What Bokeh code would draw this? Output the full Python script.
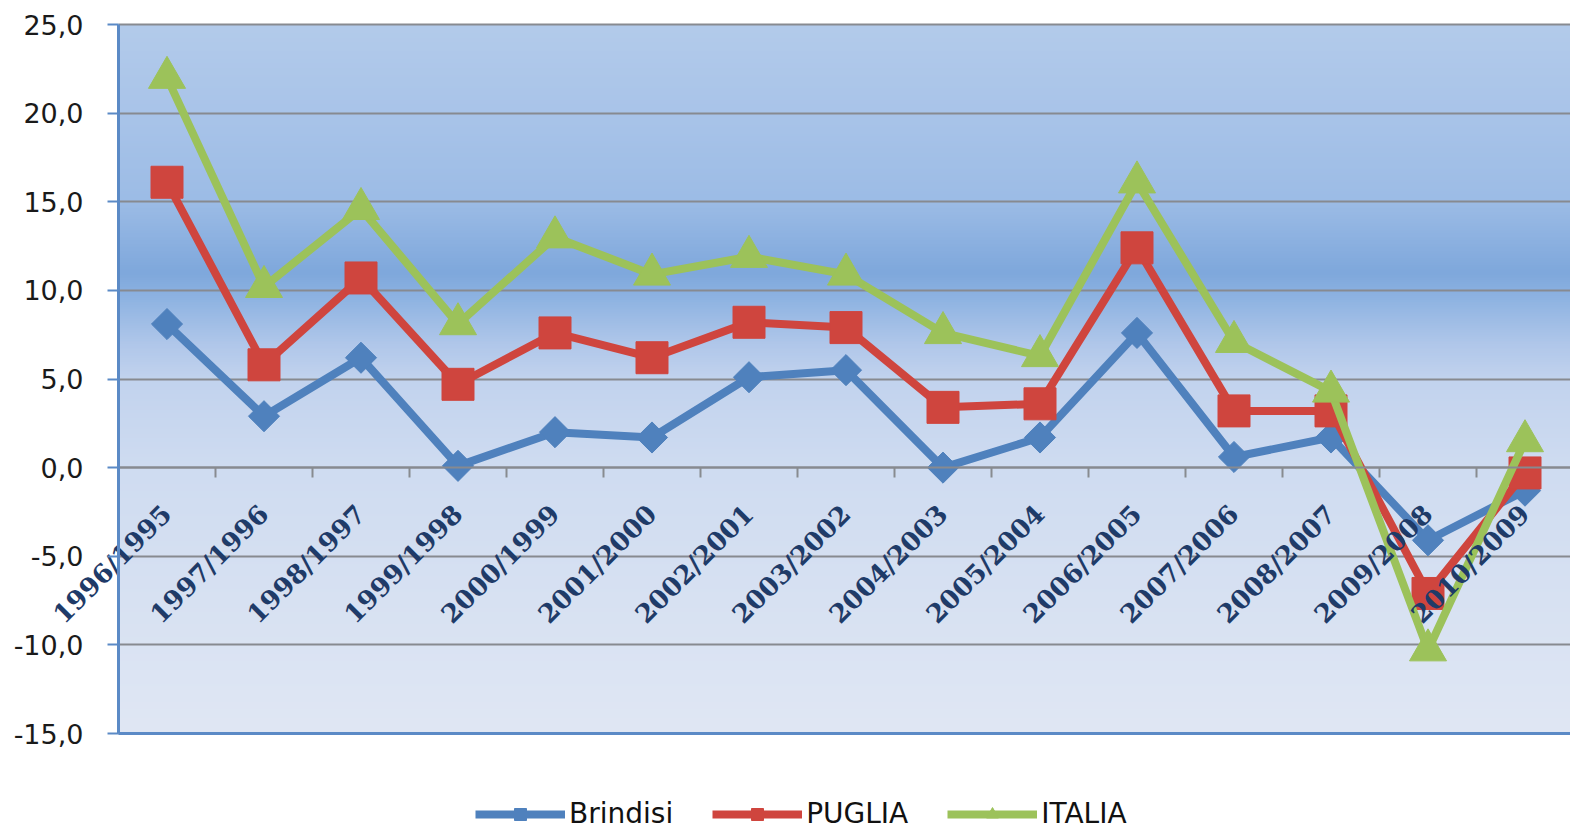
import math
import numpy as np
from bokeh.plotting import figure
from bokeh.models import FixedTicker, Legend, LegendItem, ColumnDataSource, LinearAxis
from bokeh.embed import file_html
from bokeh.resources import INLINE

categories = ["1996/1995", "1997/1996", "1998/1997", "1999/1998", "2000/1999",
              "2001/2000", "2002/2001", "2003/2002", "2004/2003", "2005/2004",
              "2006/2005", "2007/2006", "2008/2007", "2009/2008", "2010/2009"]
brindisi = [8.1, 2.9, 6.2, 0.1, 2.0, 1.7, 5.1, 5.5, 0.0, 1.7, 7.6, 0.6, 1.7, -4.1, -1.3]
puglia = [16.1, 5.8, 10.7, 4.7, 7.6, 6.2, 8.2, 7.9, 3.4, 3.6, 12.4, 3.2, 3.2, -7.1, -0.3]
italia = [22.0, 10.2, 14.6, 8.1, 13.0, 10.9, 11.9, 10.9, 7.6, 6.3, 16.1, 7.1, 4.3, -10.3, 1.5]
y_ticks = [-15, -10, -5, 0, 5, 10, 15, 20, 25]
y_labels = ["-15,0", "-10,0", "-5,0", "0,0", "5,0", "10,0", "15,0", "20,0", "25,0"]

x_idx = list(range(len(categories)))
src = ColumnDataSource(dict(x=x_idx, brindisi=brindisi, puglia=puglia, italia=italia))

# layout geometry (pixels)
W, H = 1570, 830
PLOT_L, PLOT_T, PLOT_B = 118, 24, 733
KX = 97.0                       # px per category
KY = (PLOT_B - PLOT_T) / 40.0   # px per unit
YMIN, YMAX = -15, 25
XL = -0.5
x_lo = XL - PLOT_L / KX
x_hi = x_lo + W / KX
y_hi = YMAX + PLOT_T / KY
y_lo = YMIN - (H - PLOT_B) / KY

p = figure(width=W, height=H, x_range=(x_lo, x_hi), y_range=(y_lo, y_hi),
           output_backend="svg", toolbar_location=None,
           min_border_left=0, min_border_top=0, min_border_right=0,
           min_border_bottom=0)
p.outline_line_color = None
p.background_fill_color = "white"
p.border_fill_color = "white"

# gradient background (decorative)
stops_v = [-15, 0, 5, 7, 9.5, 11, 15, 20, 25]
stops_c = ["#e0e7f4", "#cfdcf1", "#c2d3ee", "#b0c7ea", "#8fb4e2", "#7fa8dc",
           "#9cbce6", "#a9c4e9", "#b3cbeb"]
n = 400
yy = np.linspace(YMIN, YMAX, n)
rgb = np.array([[int(c[i:i + 2], 16) for i in (1, 3, 5)] for c in stops_c], dtype=float)
arr = np.zeros((n, 2, 4), dtype=np.uint8)
for k in range(3):
    arr[:, :, k] = np.interp(yy, stops_v, rgb[:, k])[:, None].astype(np.uint8)
arr[:, :, 3] = 255
img = arr.view(np.uint32).reshape(n, 2)
bg = p.image_rgba(image=[img], x=XL, y=YMIN, dw=x_hi - XL, dh=YMAX - YMIN)
bg.level = "image"

# grid
p.xgrid.visible = False
p.ygrid.ticker = FixedTicker(ticks=y_ticks)
p.ygrid.grid_line_color = "#878a90"
p.ygrid.grid_line_width = 2
p.ygrid.cross_bounds = (XL, x_hi)

# y axis
p.yaxis.fixed_location = XL
p.yaxis.bounds = (YMIN, YMAX)
p.yaxis.ticker = FixedTicker(ticks=y_ticks)
p.yaxis.major_label_overrides = {t: l for t, l in zip(y_ticks, y_labels)}
p.yaxis.major_label_text_font = "DejaVu Sans"
p.yaxis.major_label_text_font_size = "27px"
p.yaxis.major_label_text_color = "#1a1a1a"
p.yaxis.major_label_standoff = 24
p.yaxis.axis_line_color = "#5b8ac6"
p.yaxis.axis_line_width = 3
p.yaxis.major_tick_line_color = "#5b8ac6"
p.yaxis.major_tick_line_width = 2
p.yaxis.major_tick_out = 11
p.yaxis.major_tick_in = 0
p.yaxis.minor_tick_line_color = None

# bottom frame line (blue) at -15
bottom_line = LinearAxis(fixed_location=YMIN, bounds=(XL, x_hi),
                         ticker=FixedTicker(ticks=[]),
                         major_tick_line_color=None, minor_tick_line_color=None,
                         major_label_text_font_size="0px",
                         axis_line_color="#5b8ac6", axis_line_width=3)
p.add_layout(bottom_line, "below")

# x axis at zero
p.xaxis[0].fixed_location = 0
p.xaxis[0].bounds = (XL, x_hi)
p.xaxis[0].ticker = FixedTicker(ticks=x_idx, minor_ticks=[i - 0.5 for i in range(len(categories) + 1)])
p.xaxis[0].major_label_overrides = {i: c for i, c in enumerate(categories)}
p.xaxis[0].major_label_orientation = math.pi / 4
p.xaxis[0].major_tick_out = 0
p.xaxis[0].major_tick_in = 0
p.xaxis[0].major_tick_line_color = None
p.xaxis[0].minor_tick_out = 10
p.xaxis[0].minor_tick_in = 0
p.xaxis[0].minor_tick_line_color = "#888b90"
p.xaxis[0].minor_tick_line_width = 2
p.xaxis[0].axis_line_color = "#878a90"
p.xaxis[0].axis_line_width = 2
p.xaxis[0].major_label_text_font = "DejaVu Serif"
p.xaxis[0].major_label_text_font_style = "bold"
p.xaxis[0].major_label_text_font_size = "26px"
p.xaxis[0].major_label_text_color = "#1f3b68"
p.xaxis[0].major_label_standoff = 32

blue, red, green = "#4f81bd", "#cf453e", "#9cc25a"

l1 = p.line("x", "brindisi", source=src, line_color=blue, line_width=8)
s1 = p.scatter("x", "brindisi", source=src, marker="square", angle=math.pi / 4,
               size=22, fill_color=blue, line_color=blue)
l2 = p.line("x", "puglia", source=src, line_color=red, line_width=8)
s2 = p.scatter("x", "puglia", source=src, marker="square", size=32,
               fill_color=red, line_color=red)
l3 = p.line("x", "italia", source=src, line_color=green, line_width=8)
s3 = p.scatter("x", "italia", source=src, marker="triangle", size=37,
               fill_color=green, line_color=green)

legend = Legend(items=[LegendItem(label="Brindisi", renderers=[l1, s1]),
                       LegendItem(label="PUGLIA", renderers=[l2, s2]),
                       LegendItem(label="ITALIA", renderers=[l3, s3])],
                orientation="horizontal", location=(475, 0),
                border_line_color=None, background_fill_alpha=0,
                label_text_font="DejaVu Sans", label_text_font_size="28px",
                label_text_color="#111111",
                glyph_width=90, glyph_height=30, spacing=39, label_standoff=4,
                padding=0, margin=0)
p.add_layout(legend)

open("out.html", "w").write(file_html(p, INLINE))
